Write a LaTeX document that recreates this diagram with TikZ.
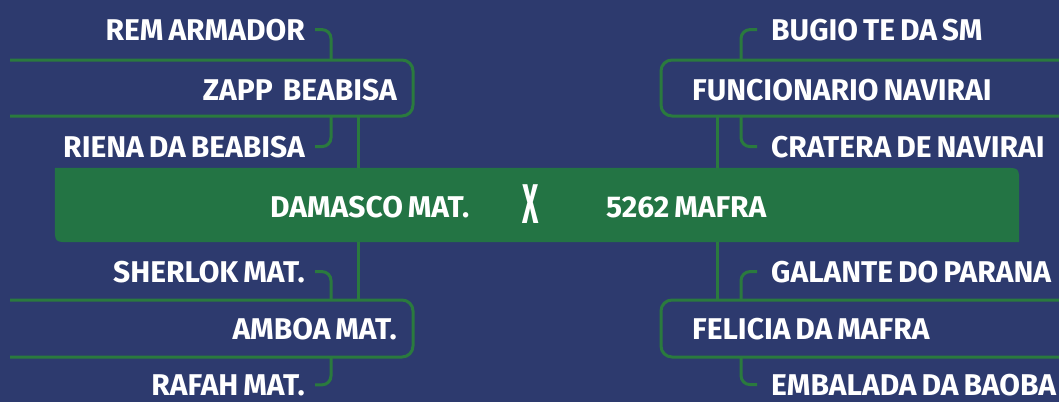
\documentclass[tikz,border=0pt]{standalone}
\usepackage{fontspec}
\usepackage{graphicx}
\setmainfont{Fira Sans}
\newfontfamily\labfont{Fira Sans}[WordSpace=0.7]
\definecolor{bg}{HTML}{2D3A6E}
\definecolor{bargreen}{HTML}{237444}
\definecolor{lingreen}{HTML}{2A7A3E}
\begin{document}
\begin{tikzpicture}[x=1pt,y=-1pt,
  lab/.style={text=white,inner sep=0pt,font=\labfont\bfseries\fontsize{30}{30}\selectfont},
  ln/.style={draw=lingreen,line width=3pt},
  bracket/.style={ln,rounded corners=9pt},
  boxline/.style={ln,rounded corners=11pt}]
\fill[bg] (0,0) rectangle (1059,402);
\useasboundingbox (0,0) rectangle (1059,402);

% central bar
\node[minimum width=964pt,minimum height=74pt,inner sep=0pt] (bar) at (537,205) {};
\fill[bargreen] (bar.north west) -- ([xshift=-16pt]bar.north east)
  .. controls (bar.north east) .. ([yshift=-16pt]bar.north east)
  -- (bar.south east) -- ([xshift=16pt]bar.south west)
  .. controls (bar.south west) .. ([yshift=16pt]bar.south west) -- cycle;
\node[lab,anchor=base west] (home) at (270,217) {DAMASCO MAT.};
\node[lab,anchor=base west] (away) at (606,217) {5262 MAFRA};
\node[text=white,inner sep=0pt,anchor=base,font=\labfont\bfseries\fontsize{56}{56}\selectfont] (vs) at (531,223) {\scalebox{0.5}[1]{X}};

% connection points
\coordinate (zt) at (331,60);  \coordinate (zb) at (331,116);  \coordinate (zc) at (358,116);
\coordinate (at) at (331,300); \coordinate (ab) at (331,357);  \coordinate (ac) at (358,300);
\coordinate (ft) at (741,60);  \coordinate (fb) at (741,116);  \coordinate (fc) at (717,116);
\coordinate (et) at (741,300); \coordinate (eb) at (741,357);  \coordinate (ec) at (717,300);

% left top
\draw[boxline] (10,60) -- (413,60) -- (413,116) -- (10,116);
\node[lab,anchor=base east] (rem) at (305,40) {REM ARMADOR};
\node[lab,anchor=base east] (zapp) at (397,100) {ZAPP\ \ BEABISA};
\node[lab,anchor=base east] (riena) at (305,157) {RIENA DA BEABISA};
\draw[bracket] ([xshift=10pt]rem.east) -| (zt);
\draw[bracket] ([xshift=10pt]riena.east) -| (zb);
\draw[ln] (zc) -- (zc |- bar.north);

% left bottom
\draw[boxline] (10,300) -- (413,300) -- (413,357) -- (10,357);
\node[lab,anchor=base east] (sher) at (305,282) {SHERLOK MAT.};
\node[lab,anchor=base east] (amboa) at (397,339) {AMBOA MAT.};
\node[lab,anchor=base east] (rafah) at (305,395) {RAFAH MAT.};
\draw[bracket] ([xshift=10pt]sher.east) -| (at);
\draw[bracket] ([xshift=10pt]rafah.east) -| (ab);
\draw[ln] (ac |- bar.south) -- (ac);

% right top
\draw[boxline] (1070,60) -- (661,60) -- (661,116) -- (1070,116);
\node[lab,anchor=base west] (bugio) at (771,40) {BUGIO TE DA SM};
\node[lab,anchor=base west] (func) at (692,100) {FUNCIONARIO NAVIRAI};
\node[lab,anchor=base west] (crat) at (771,157) {CRATERA DE NAVIRAI};
\draw[bracket] ([xshift=-14pt]bugio.west) -| (ft);
\draw[bracket] ([xshift=-14pt]crat.west) -| (fb);
\draw[ln] (fc) -- (fc |- bar.north);

% right bottom
\draw[boxline] (1070,300) -- (661,300) -- (661,357) -- (1070,357);
\node[lab,anchor=base west] (gal) at (771,282) {GALANTE DO PARANA};
\node[lab,anchor=base west] (fel) at (692,339) {FELICIA DA MAFRA};
\node[lab,anchor=base west] (emb) at (771,395) {EMBALADA DA BAOBA};
\draw[bracket] ([xshift=-14pt]gal.west) -| (et);
\draw[bracket] ([xshift=-14pt]emb.west) -| (eb);
\draw[ln] (ec |- bar.south) -- (ec);
\end{tikzpicture}
\end{document}
